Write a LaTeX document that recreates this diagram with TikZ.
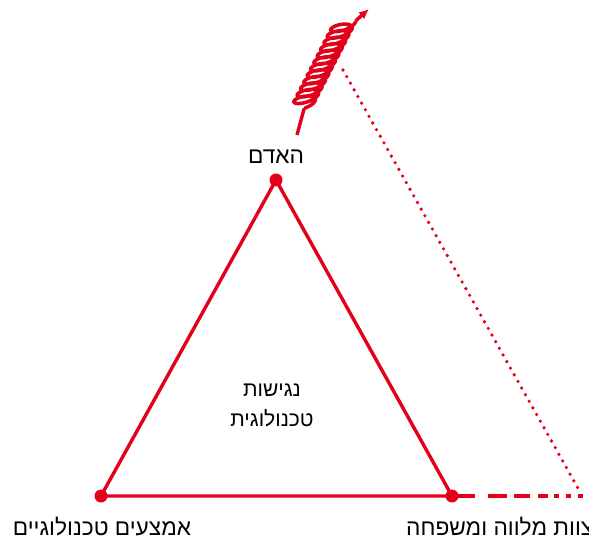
\documentclass[tikz,border=0pt]{standalone}
\usepackage{fontspec}
\setmainfont{Liberation Sans}
\newfontfamily\hebfont[Script=Hebrew]{Liberation Sans}
\TeXXeTstate=1
\usetikzlibrary{arrows.meta}
\definecolor{tred}{RGB}{226,0,26}
\begin{document}
\begin{tikzpicture}[x=1pt,y=-1pt,
  edge/.style={draw=tred,line width=3.4pt},
  vdot/.style={circle,fill=tred,inner sep=0pt,minimum size=13pt},
  lbl/.style={font=\hebfont\fontsize{22.7}{27}\selectfont,text=black,inner sep=0pt},
  clbl/.style={font=\hebfont\fontsize{21}{30}\selectfont,text=black,inner sep=0pt,align=center}]
\useasboundingbox (0,0) rectangle (589,540);
\clip (0,0) rectangle (589,540);
% vertices
\node[vdot] (top) at (276,180) {};
\node[vdot] (bl) at (101,496) {};
\node[vdot] (br) at (452,496) {};
\draw[edge] (top.center) -- (bl.center) -- (br.center) -- cycle;
% dashed extension
\coordinate (e) at (584,496);
\draw[draw=tred,line width=3.4pt,dash pattern=on 23pt off 13pt on 19pt off 7pt on 16pt off 8pt on 10pt off 6pt on 5pt off 7pt on 5pt off 7pt on 5pt off 7pt] (br.center) -- (e);
% dotted line
\coordinate (d0) at (343,70);
\coordinate (d1) at (579,490);
\draw[draw=tred,line width=3.6pt,line cap=round,dash pattern=on 0pt off 7.6pt] (d0) -- (d1);
% coil
\coordinate (c0) at (297,135);
\coordinate (c1) at (304.2,108.3);
\coordinate (c2) at (355.6,20.9);
\coordinate (c3) at (369,9);
\draw[edge] (c0) -- (c1);
\draw[edge,line width=3.5pt,line join=round] plot[smooth,domain=-90:4320,samples=340]
  ({303 + (\x+90)/360*7.34*0.456 + 12*cos(\x)*0.966 - 4.5*sin(\x)*0.259},
   {104 - (\x+90)/360*7.34*0.890 - 12*cos(\x)*0.259 - 4.5*sin(\x)*0.966});
\draw[edge,-{Latex[length=10pt,width=9pt]}] (c2) -- (c3);
% labels
\node[lbl] (ltop) at (276,157) {\beginR האדם\endR};
\node[lbl] (lbl) at (102,527) {\beginR אמצעים טכנולוגיים\endR};
\node[lbl,anchor=west] (lbr) at (406,527) {\beginR צוות מלווה ומשפחה\endR};
\node[clbl] (mid) at (272,405) {\beginR נגישות\endR\\\beginR טכנולוגית\endR};
\end{tikzpicture}
\end{document}
